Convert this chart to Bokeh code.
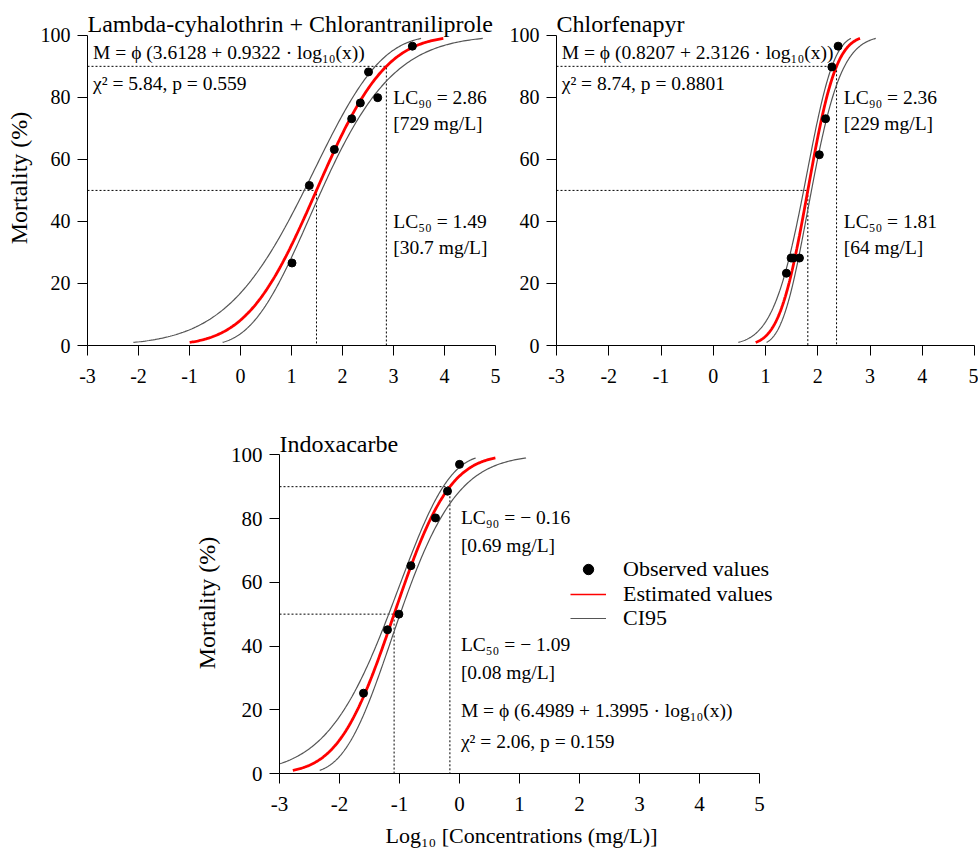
import math
from bokeh.plotting import figure
from bokeh.models import Range1d, FixedTicker, Label, Legend, LegendItem, Spacer
from bokeh.layouts import row, column
from bokeh.embed import file_html
from bokeh.resources import INLINE

FONT = "Liberation Serif"

# ---------------- data ----------------
x_ticks = [-3, -2, -1, 0, 1, 2, 3, 4, 5]
x_tick_labels = ["-3", "-2", "-1", "0", "1", "2", "3", "4", "5"]
y_ticks = [0, 20, 40, 60, 80, 100]
y_tick_labels = ["0", "20", "40", "60", "80", "100"]

titles = ["Lambda-cyhalothrin + Chlorantraniliprole", "Chlorfenapyr", "Indoxacarbe"]
equations = ["M = ϕ (3.6128 + 0.9322 · log₁₀(x))",
             "M = ϕ (0.8207 + 2.3126 · log₁₀(x))",
             "M = ϕ (6.4989 + 1.3995 · log₁₀(x))"]
chi_texts = ["χ² = 5.84, p = 0.559", "χ² = 8.74, p = 0.8801", "χ² = 2.06, p = 0.159"]
lc50_values = [1.49, 1.81, -1.09]
lc90_values = [2.86, 2.36, -0.16]
lc90_texts = ["LC₉₀ = 2.86", "LC₉₀ = 2.36", "LC₉₀ = − 0.16"]
lc90_conc = ["[729 mg/L]", "[229 mg/L]", "[0.69 mg/L]"]
lc50_texts = ["LC₅₀ = 1.49", "LC₅₀ = 1.81", "LC₅₀ = − 1.09"]
lc50_conc = ["[30.7 mg/L]", "[64 mg/L]", "[0.08 mg/L]"]
legend_labels = ["Observed values", "Estimated values", "CI95"]
x_axis_title = "Log₁₀ [Concentrations (mg/L)]"
y_axis_title = "Mortality (%)"

obs_x_1 = [1.01, 1.35, 1.84, 2.18, 2.35, 2.51, 2.69, 3.37]
obs_y_1 = [26.6, 51.6, 63.2, 73.1, 78.2, 88.2, 79.9, 96.5]
obs_x_2 = [1.40, 1.49, 1.53, 1.65, 2.03, 2.15, 2.27, 2.39]
obs_y_2 = [23.3, 28.2, 28.2, 28.2, 61.5, 73.1, 89.8, 96.5]
obs_x_3 = [-1.60, -1.20, -1.01, -0.81, -0.40, -0.20, 0.00]
obs_y_3 = [25.2, 45.1, 50.0, 65.2, 80.2, 88.6, 97.0]

# CI95 bands: log10 concentration read at 1 %, 50 % and 99 % mortality
ci_lower_1 = [-2.10, 1.25, 3.54]
ci_upper_1 = [-0.35, 1.59, 4.75]
ci_lower_2 = [0.48, 1.73, 2.635]
ci_upper_2 = [1.02, 1.88, 3.11]
ci_lower_3 = [-3.52, -1.18, 0.27]
ci_upper_3 = [-2.33, -0.99, 1.11]

obs_x = [obs_x_1, obs_x_2, obs_x_3]
obs_y = [obs_y_1, obs_y_2, obs_y_3]
ci_lower = [ci_lower_1, ci_lower_2, ci_lower_3]
ci_upper = [ci_upper_1, ci_upper_2, ci_upper_3]

# ---------------- probit curve helpers ----------------
Z99 = 2.326348
Z90 = 1.281552
N = 200
zs = [-Z99 + i * 2 * Z99 / N for i in range(N + 1)]


def pct(z):
    return 50.0 * (1.0 + math.erf(z / math.sqrt(2.0)))


def curve_from_three(x_lo, x_mid, x_hi):
    b = (x_hi - x_lo) / (2 * Z99)
    c = ((x_hi + x_lo) / 2 - x_mid) / (Z99 ** 2)
    return [x_mid + b * z + c * z * z for z in zs], [pct(z) for z in zs]


def fitted_curve(lc50, lc90):
    s = (lc90 - lc50) / Z90
    return [lc50 + s * z for z in zs], [pct(z) for z in zs]


RED = "#ff0000"
GRAY = "#555555"

# ---------------- layout settings ----------------
layouts = [
    dict(width=503, height=408, bl=87, br=8, bt=10, bb=63, x_end=5, y_end=108,
         tick_fs="20px", ylabel=True, ylabel_standoff=6, xlabel=False, xtick_standoff=13,
         title_y=103.55, eq_x=-2.89, eq_y=94.6, chi_y=84.6,
         lc_x=2.995, lc90_y=79.8, lc90c_y=71.5, lc50_y=40.0, lc50c_y=31.7),
    dict(width=475, height=408, bl=53, br=4, bt=10, bb=63, x_end=5, y_end=108,
         tick_fs="20px", ylabel=False, ylabel_standoff=5, xlabel=False, xtick_standoff=13,
         title_y=103.55, eq_x=-2.90, eq_y=94.6, chi_y=84.6,
         lc_x=2.497, lc90_y=79.8, lc90c_y=71.5, lc50_y=40.0, lc50c_y=31.7),
    dict(width=593, height=442, bl=90, br=8, bt=24, bb=73, x_end=5.25, y_end=107,
         tick_fs="21px", ylabel=True, ylabel_standoff=8, xlabel=True, xtick_standoff=13,
         title_y=103.5, eq_x=0.023, eq_y=19.8, chi_y=9.9,
         lc_x=0.023, lc90_y=80.4, lc90c_y=71.6, lc50_y=40.4, lc50c_y=31.6),
]

ANN_FS = "19.5px"


def make_panel(i):
    L = layouts[i]
    p = figure(width=L["width"], height=L["height"], output_backend="svg",
               toolbar_location=None, x_range=Range1d(-3, L["x_end"]),
               y_range=Range1d(0, L["y_end"]),
               min_border_left=L["bl"], min_border_right=L["br"],
               min_border_top=L["bt"], min_border_bottom=L["bb"])
    p.outline_line_color = None
    p.xgrid.visible = False
    p.ygrid.visible = False
    p.background_fill_color = "white"

    p.xaxis.ticker = FixedTicker(ticks=x_ticks)
    p.xaxis.major_label_overrides = dict(zip(x_ticks, x_tick_labels))
    p.xaxis.bounds = (x_ticks[0], x_ticks[-1])
    p.yaxis.ticker = FixedTicker(ticks=y_ticks)
    p.yaxis.major_label_overrides = dict(zip(y_ticks, y_tick_labels))
    p.yaxis.bounds = (y_ticks[0], y_ticks[-1])
    for ax in (p.xaxis, p.yaxis):
        ax.axis_line_color = "black"
        ax.axis_line_width = 1
        ax.major_tick_line_color = "black"
        ax.major_tick_out = 10
        ax.major_tick_in = 0
        ax.minor_tick_line_color = None
        ax.major_label_text_font = FONT
        ax.major_label_text_font_size = L["tick_fs"]
        ax.major_label_text_color = "black"
    p.xaxis.major_label_standoff = L["xtick_standoff"]
    p.yaxis.major_label_standoff = 7
    if L["ylabel"]:
        p.yaxis.axis_label = y_axis_title
        p.yaxis.axis_label_text_font = FONT
        p.yaxis.axis_label_text_font_size = "24px"
        p.yaxis.axis_label_text_font_style = "normal"
        p.yaxis.axis_label_text_color = "black"
        p.yaxis.axis_label_standoff = L["ylabel_standoff"]
    if L["xlabel"]:
        # two trailing no-break spaces keep the title centred on the -3..5 axis
        p.xaxis.axis_label = x_axis_title + "\u00a0\u00a0"
        p.xaxis.axis_label_text_font = FONT
        p.xaxis.axis_label_text_font_size = "22px"
        p.xaxis.axis_label_text_font_style = "normal"
        p.xaxis.axis_label_text_color = "black"
        p.xaxis.axis_label_standoff = 9

    lc50 = lc50_values[i]
    lc90 = lc90_values[i]
    # reference lines
    p.line([-3, lc50, lc50], [50, 50, 0], line_color="black", line_width=1, line_dash="2 2")
    p.line([-3, lc90, lc90], [90, 90, 0], line_color="black", line_width=1, line_dash="2 2")

    # CI curves
    for trip in (ci_lower[i], ci_upper[i]):
        cx, cy = curve_from_three(*trip)
        p.line(cx, cy, line_color=GRAY, line_width=1.2)
    # fitted curve
    fx, fy = fitted_curve(lc50, lc90)
    p.line(fx, fy, line_color=RED, line_width=2.8)
    pts = p.scatter(obs_x[i], obs_y[i], size=8, color="black")

    def lab(x, y, text, fs=ANN_FS):
        p.add_layout(Label(x=x, y=y, text=text, text_font=FONT, text_font_size=fs,
                           text_color="black", text_align="left", text_baseline="middle"))

    lab(-3, L["title_y"], titles[i], "24px")
    lab(L["eq_x"], L["eq_y"], equations[i])
    lab(L["eq_x"], L["chi_y"], chi_texts[i])
    lab(L["lc_x"], L["lc90_y"], lc90_texts[i])
    lab(L["lc_x"], L["lc90c_y"], lc90_conc[i])
    lab(L["lc_x"], L["lc50_y"], lc50_texts[i])
    lab(L["lc_x"], L["lc50c_y"], lc50_conc[i])
    return p, pts


p1, _ = make_panel(0)
p2, _ = make_panel(1)
p3, pts3 = make_panel(2)

# legend (panel 3) – one single-item legend per row
leg_red = p3.line([100, 101], [-100, -100], line_color=RED, line_width=1.5)
leg_gray = p3.line([100, 101], [-100, -100], line_color=GRAY, line_width=1.2)
legend_renderers = [pts3, leg_red, leg_gray]
legend_offsets = [191, 166.5, 142]
for lbl, rend, vy in zip(legend_labels, legend_renderers, legend_offsets):
    lg = Legend(items=[LegendItem(label=lbl, renderers=[rend])],
                location=(291, vy), padding=0, margin=0, spacing=0,
                glyph_width=36, glyph_height=26, label_height=26, label_standoff=17,
                label_text_font=FONT, label_text_font_size="22px", label_text_color="black",
                border_line_color=None, background_fill_alpha=0)
    p3.add_layout(lg)

layout = column(row(p1, p2), row(Spacer(width=189, height=10), p3))

open("out.html", "w").write(file_html(layout, INLINE))
